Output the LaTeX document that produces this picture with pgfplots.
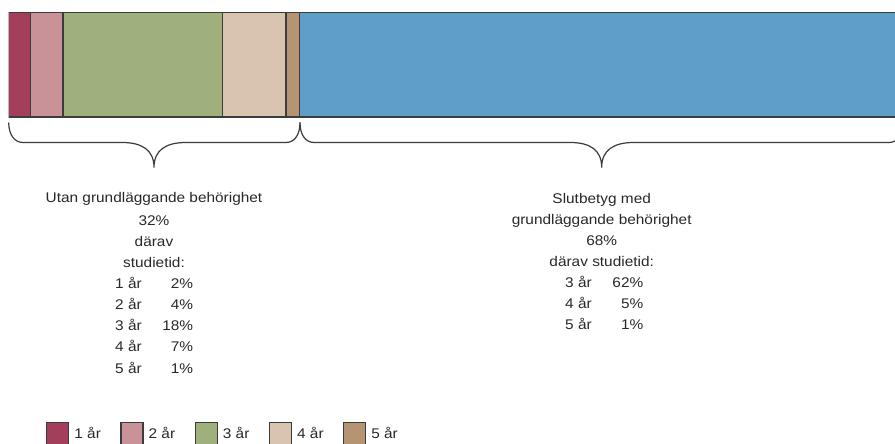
\documentclass[border=0pt]{standalone}
\usepackage{pgfplots}
\pgfplotsset{compat=1.18}
\usepackage{fontspec}
\setmainfont[FakeStretch=1.1]{Liberation Sans}
\definecolor{cA}{RGB}{163,63,90}
\definecolor{cB}{RGB}{201,146,152}
\definecolor{cC}{RGB}{160,176,125}
\definecolor{cD}{RGB}{216,196,175}
\definecolor{cE}{RGB}{181,148,113}
\definecolor{cF}{RGB}{95,158,198}
\definecolor{edge}{RGB}{60,60,60}
\definecolor{txt}{RGB}{40,40,40}
\begin{document}
\begin{tikzpicture}[font=\fontsize{14}{17}\selectfont, text=txt]
\useasboundingbox (0pt,0pt) rectangle (895pt,-444pt);
\begin{axis}[
  at={(8.7pt,-117pt)}, anchor=south west,
  scale only axis, width=886.3pt, height=105pt,
  xbar stacked, bar width=105pt,
  xmin=0, xmax=97.46, ymin=0.5, ymax=1.5,
  hide axis, clip=true,
  legend image code/.code={\draw[#1, draw=edge, line width=1.2pt] (0pt,-11pt) rectangle (22pt,11pt);},
  legend columns=5,
  legend style={at={(axis description cs:0.0421,-2.905)}, anchor=north west,
    draw=none, fill=none, inner sep=0pt, font=\fontsize{14}{17}\selectfont, text=txt,
    /tikz/every odd column/.append style={column sep=3pt},
    /tikz/every even column/.append style={column sep=17.5pt}},
  legend cell align=left,
]
\addplot[fill=cA, draw=edge, line width=1.3pt] coordinates {(2.375,1)};
\addplot[fill=cB, draw=edge, line width=1.3pt] coordinates {(3.596,1)};
\addplot[fill=cC, draw=edge, line width=1.3pt] coordinates {(17.56,1)};
\addplot[fill=cD, draw=edge, line width=1.3pt] coordinates {(6.96,1)};
\addplot[fill=cE, draw=edge, line width=1.3pt] coordinates {(1.506,1)};
\addplot[fill=cF, draw=edge, line width=1.3pt, forget plot] coordinates {(68,1)};
\legend{1 år, 2 år, 3 år, 4 år, 5 år}
\end{axis}
% braces
\draw[edge, line width=1.2pt]
 (8.7pt,-122.5pt) .. controls (8.7pt,-134pt) and (14pt,-142.5pt) .. (23pt,-142.5pt)
 -- (122pt,-142.5pt) .. controls (142pt,-142.5pt) and (154pt,-150pt) .. (154pt,-167.5pt)
 .. controls (154pt,-150pt) and (166pt,-142.5pt) .. (186pt,-142.5pt)
 -- (286pt,-142.5pt) .. controls (295pt,-142.5pt) and (300pt,-134pt) .. (300pt,-122.5pt);
\draw[edge, line width=1.2pt]
 (300pt,-122.5pt) .. controls (300pt,-134pt) and (305pt,-142.5pt) .. (314pt,-142.5pt)
 -- (570pt,-142.5pt) .. controls (590pt,-142.5pt) and (601.7pt,-150pt) .. (601.7pt,-167.5pt)
 .. controls (601.7pt,-150pt) and (613.7pt,-142.5pt) .. (633.7pt,-142.5pt)
 -- (889pt,-142.5pt) .. controls (898pt,-142.5pt) and (903pt,-134pt) .. (903pt,-122.5pt);
% left text block
\node[anchor=base] at (154pt,-202.7pt) {Utan grundläggande behörighet};
\node[anchor=base] at (154pt,-225.2pt) {32\%};
\node[anchor=base] at (154pt,-246pt) {därav};
\node[anchor=base] at (154pt,-267.3pt) {studietid:};
\foreach \t/\p/\y in {1 år/2\%/288.3, 2 år/4\%/309.3, 3 år/18\%/330.5, 4 år/7\%/351.7, 5 år/1\%/373}{
  \node[anchor=base west, inner sep=0pt] at (115pt,-\y pt) {\t};
  \node[anchor=base east, inner sep=0pt] at (193.3pt,-\y pt) {\p};
}
% right text block
\node[anchor=base] at (601.7pt,-203.3pt) {Slutbetyg med};
\node[anchor=base] at (601.7pt,-224.5pt) {grundläggande behörighet};
\node[anchor=base] at (601.7pt,-245pt) {68\%};
\node[anchor=base] at (601.7pt,-266pt) {därav studietid:};
\foreach \t/\p/\y in {3 år/62\%/287.3, 4 år/5\%/308.3, 5 år/1\%/329.5}{
  \node[anchor=base west, inner sep=0pt] at (565pt,-\y pt) {\t};
  \node[anchor=base east, inner sep=0pt] at (643.5pt,-\y pt) {\p};
}
\end{tikzpicture}
\end{document}
